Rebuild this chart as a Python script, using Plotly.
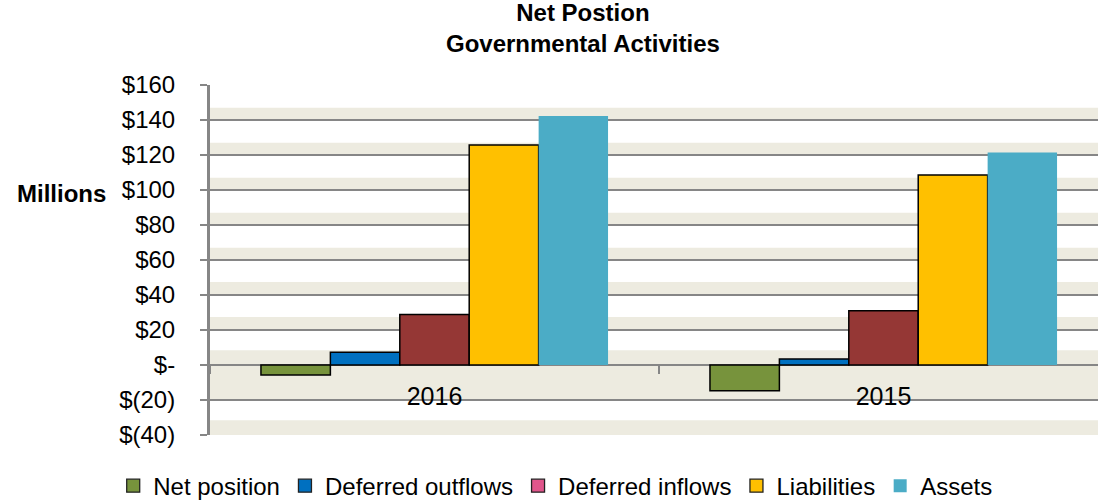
import plotly.graph_objects as go

# ---- data ----
categories = ["2016", "2015"]
net_position = [-5.7, -14.7]
deferred_outflows = [7.3, 3.4]
deferred_inflows = [28.8, 31.0]
liabilities = [125.7, 108.6]
assets = [142.3, 121.5]

series_names = ["Net position", "Deferred outflows", "Deferred inflows", "Liabilities", "Assets"]
bar_colors = ["#77933C", "#0070C0", "#953735", "#FFC000", "#4BACC6"]
legend_colors = ["#77933C", "#0070C0", "#E0558B", "#FFC000", "#4BACC6"]
outline_widths = [1.5, 1.5, 1.5, 1.5, 0]

tick_vals = [160, 140, 120, 100, 80, 60, 40, 20, 0, -20, -40]
tick_text = ["$160", "$140", "$120", "$100", "$80", "$60", "$40", "$20", "$-", "$(20)", "$(40)"]

title_lines = ["Net Postion", "Governmental Activities"]
y_title = "Millions"

# background stripe bands (value ranges)
bands = [(139.5, 147), (119.5, 127), (99.5, 107), (79.5, 87), (59.5, 67),
         (39.5, 47.5), (19.5, 27.5), (-20, 8.5), (-40, -31.5)]

FONT = "Liberation Sans, Arial, sans-serif"
GRID = "#868686"

fig = go.Figure()
series_values = [net_position, deferred_outflows, deferred_inflows, liabilities, assets]
for name, vals, col, lw in zip(series_names, series_values, bar_colors, outline_widths):
    fig.add_trace(go.Bar(
        x=categories, y=vals, name=name, showlegend=False,
        marker=dict(color=col, line=dict(color="#000000", width=lw)),
    ))

# legend entries (the legend shows its own swatch colours)
for name, col, lw in zip(series_names, legend_colors, outline_widths):
    fig.add_trace(go.Scatter(
        x=[None], y=[None], mode="markers", name=name,
        marker=dict(symbol="square", size=13, color=col,
                    line=dict(color="#222222", width=1.3 if lw else 0)),
    ))

for lo, hi in bands:
    fig.add_shape(type="rect", xref="paper", yref="y", x0=0, x1=1, y0=lo, y1=hi,
                  fillcolor="#EDEBE0", line=dict(width=0), layer="below")

fig.update_layout(
    width=1098, height=500,
    margin=dict(l=210, r=0, t=85, b=65, autoexpand=False),
    paper_bgcolor="white", plot_bgcolor="white",
    barmode="group", bargap=0.227, bargroupgap=0,
    font=dict(family=FONT, color="#000000", size=24),
    xaxis=dict(
        type="category", range=[-0.5, 1.4777],
        anchor="free", position=0.2,
        showline=False, showgrid=False, zeroline=False,
        ticks="outside", tickson="boundaries", ticklen=8, tickwidth=2, tickcolor=GRID,
        ticklabelstandoff=14,
        tickfont=dict(family=FONT, size=25, color="#000000"),
    ),
    yaxis=dict(
        range=[-40, 160], tickmode="array", tickvals=tick_vals, ticktext=tick_text,
        showline=True, linecolor=GRID, linewidth=3,
        ticks="outside", ticklen=7, tickwidth=2, tickcolor=GRID,
        showgrid=True, gridcolor=GRID, gridwidth=2,
        zeroline=True, zerolinecolor=GRID, zerolinewidth=2,
        ticklabelstandoff=20,
        tickfont=dict(family=FONT, size=24, color="#000000"),
    ),
    legend=dict(orientation="h", x=-0.109, xanchor="left", y=-0.146, yanchor="middle",
                font=dict(family=FONT, size=24, color="#000000"),
                itemwidth=30, tracegroupgap=0, bgcolor="rgba(0,0,0,0)"),
    annotations=[
        dict(text="<b>%s</b>" % "<br>".join(title_lines), xref="paper", yref="paper",
             x=0.42, y=1.163, xanchor="center", yanchor="middle", showarrow=False,
             font=dict(family=FONT, size=24, color="#000000")),
        dict(text="<b>%s</b>" % y_title, xref="paper", yref="paper",
             x=-0.115, y=0.691, xanchor="right", yanchor="middle",
             showarrow=False, font=dict(family=FONT, size=24, color="#000000")),
    ],
)

fig.write_html("out.html", config={"displayModeBar": False},
               post_script="document.body.style.margin='0px';document.body.style.overflow='hidden';")
